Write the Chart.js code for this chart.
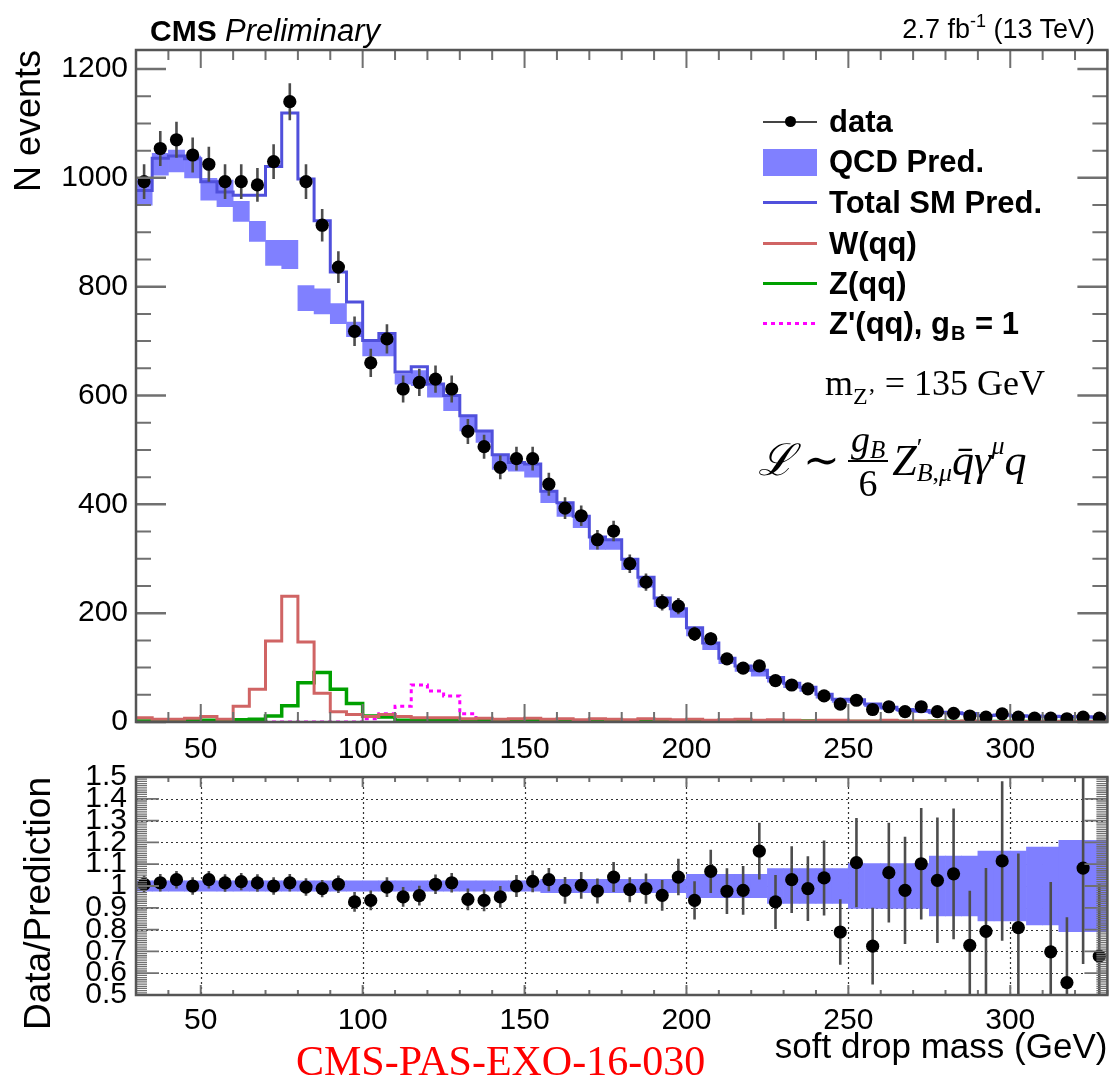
<!DOCTYPE html>
<html>
<head>
<meta charset="utf-8">
<title>Soft drop mass</title>
<script src="https://cdn.jsdelivr.net/npm/chart.js@4.4.1/dist/chart.umd.min.js"></script>
<style>
html, body { margin:0; padding:0; background:#fff; }
#wrap { position:relative; width:1114px; height:1081px; overflow:hidden; font-family:"Liberation Sans", Arial, sans-serif; color:#000; }
#wrap canvas { position:absolute; left:0; top:0; }
.t { position:absolute; white-space:nowrap; line-height:1; }
.sym { position:absolute; left:763px; width:54px; }
.row { position:absolute; left:829px; height:40px; display:flex; align-items:center; font-weight:bold; font-size:31px; white-space:nowrap; line-height:1; }
.serif { font-family:"Liberation Serif", "DejaVu Serif", serif; }
</style>
</head>
<body>
<div id="wrap">
  <canvas id="mainChart" width="1114" height="1081"></canvas>
  <canvas id="ratioChart" width="1114" height="1081"></canvas>

  <div class="t" style="left:150px;top:15px;font-size:30px;"><b>CMS</b> <i style="font-size:31px">Preliminary</i></div>
  <div class="t" style="right:19px;top:16px;font-size:27px;">2.7 fb<span style="font-size:18px;position:relative;top:-11px">-1</span> (13 TeV)</div>

  <!-- legend symbols -->
  <div class="sym" style="top:120.7px;height:2px;background:#444;"></div>
  <div style="position:absolute;left:785px;top:116.2px;width:11px;height:11px;border-radius:50%;background:#000;"></div>
  <div class="sym" style="top:149px;height:27px;background:#8080ff;"></div>
  <div class="sym" style="top:201px;height:3px;background:#5050dc;"></div>
  <div class="sym" style="top:242px;height:3px;background:#d06464;"></div>
  <div class="sym" style="top:282px;height:3px;background:#00a000;"></div>
  <div class="sym" style="top:322px;height:3px;background:repeating-linear-gradient(to right,#ff00ff 0 4px,transparent 4px 8px);"></div>

  <!-- legend texts -->
  <div class="row" style="top:101.7px;">data</div>
  <div class="row" style="top:141.7px;">QCD Pred.</div>
  <div class="row" style="top:182.3px;">Total SM Pred.</div>
  <div class="row" style="top:223.3px;">W(qq)</div>
  <div class="row" style="top:263.3px;">Z(qq)</div>
  <div class="row" style="top:303.3px;">Z'(qq), g<span style="font-size:20px;position:relative;top:10px;margin:0 1px">B</span>&nbsp;= 1</div>

  <div class="t serif" style="left:825px;top:365px;font-size:36px;">m<span style="font-size:24px;position:relative;top:9px">Z’</span> = 135 GeV</div>

  <div class="t serif" style="left:758px;top:420px;font-size:44px;display:flex;align-items:center;">
    <span style="font-style:italic">ℒ</span>
    <span style="margin:0 8px">∼</span>
    <span style="display:inline-flex;flex-direction:column;align-items:center;font-size:38px;">
      <span style="border-bottom:2px solid #000;padding:0 3px 2px;"><i>g</i><span style="font-size:25px;position:relative;top:6px"><i>B</i></span></span>
      <span style="padding-top:2px">6</span>
    </span>
    <i style="margin-left:4px">Z</i>
    <span style="display:inline-flex;flex-direction:column;font-size:26px;line-height:0.95;">
      <span>′</span><span><i>B</i>,<i>μ</i></span>
    </span>
    <i>q̄</i><i>γ</i><span style="font-size:26px;position:relative;top:-15px"><i>μ</i></span><i>q</i>
  </div>

  <div class="t serif" style="left:296px;top:1040px;font-size:42px;color:#ff0000;">CMS-PAS-EXO-16-030</div>
</div>

<script>
// ---------------- data ----------------
const binLo = [30,35,40,45,50,55,60,65,70,75,80,85,90,95,100,105,110,115,120,125,
               130,135,140,145,150,155,160,165,170,175,180,185,190,195,200,205,210,215,220,225,
               230,235,240,245,250,255,260,265,270,275,280,285,290,295,300,305,310,315,320,325];
const binWidth = 5;

const dataCounts = [993,1054,1070,1042,1025,993,993,987,1030,1140,993,913,836,718,660,704,612,624,630,612,
                    534,506,468,484,484,437,393,379,335,351,291,257,220,213,162,153,116,99,103,76,
                    68,61,48,33,40,23,28,19,28,19,16,11,9,15,9,7,7,6,9,7];
const dataErrors = [32,32,33,32,32,32,32,31,32,34,32,30,29,27,26,27,25,25,25,25,
                    23,22,22,22,22,21,20,19,18,19,17,16,15,15,13,12,11,10,10,9,
                    8,8,7,6,6,5,5,4,5,4,4,3,3,4,3,3,3,2,3,3];

const totalSM = [977,1036,1040,1035,993,974,968,968,1021,1119,998,921,827,772,701,714,643,653,621,600,
                 563,535,491,477,474,424,403,378,340,335,299,266,228,208,173,145,117,103,95,82,
                 71,64,51,42,41,33,27,23,21,18,17,15.5,12,13,11.5,11,10.5,10,9.5,9];
const qcdLow  = [950,1005,1011,1000,959,947,920,883,839,833,756,750,732,708,673,673,621,618,597,572,
                 535,514,464,461,450,403,378,357,317,317,280,248,212,192,158,133,107,93,84,73,
                 63,56,44,36,35,28,23,19,17,15,14,12.5,10,10.5,9,8.5,8,7.5,7,7];
const qcdHigh = [999,1045,1051,1040,999,996,957,920,885,885,802,796,769,735,701,710,640,646,621,600,
                 560,535,489,477,474,424,400,378,340,335,299,266,228,208,173,145,117,103,95,82,
                 71,64,51,42,41,33,27,23,21,18,17,15.5,12,13,11.5,11,10.5,10,9.5,9];
const wqq = [8,5,5,7,10,5,29,60,149,231,147,53,19,14,10,14,10,8,8,8,
             6,7,5,6,7,5,6,4,6,5,4,6,5,4,5,3,4,5,3,4,
             3,2,3,3,2,2,3,2,2,2,1,2,1,1,1,1,1,1,1,1];
const zqq = [2,2,3,3,3,3,4,5,11,30,72,91,60,34,11,9,3,3,3,3,
             4,4,3,3,3,2,2,2,2,2,2,2,2,2,2,2,2,2,2,2,
             2,2,1,1,1,1,2,1,1,2,1,1,1,1,1,1,1,1,1,1];
const zprime = [0,0,0,0,0,0,0,0,0,0,0,0,0,0,6,15,29,68,57,48,
                15,5,2,2,1,1,0,0,0,0,0,0,0,0,0,0,0,0,0,0,
                0,0,0,0,0,0,0,0,0,0,0,0,0,0,0,0,0,0,0,0];

const ratioVals = [1.008,1.015,1.029,1.000,1.029,1.014,1.020,1.014,1.000,1.015,0.995,0.988,1.008,0.927,0.934,0.995,0.950,0.956,1.008,1.015,
                   0.939,0.934,0.950,1.000,1.021,1.029,0.980,1.003,0.977,1.041,0.983,0.988,0.957,1.041,0.934,1.067,0.976,0.980,1.160,0.927,
                   1.029,0.988,1.037,0.789,1.107,0.724,1.061,0.980,1.102,1.026,1.056,0.728,0.792,1.115,0.809,null,0.698,0.557,1.082,0.678];
const ratioErrors = [0.04,0.04,0.04,0.04,0.04,0.04,0.04,0.04,0.04,0.04,0.04,0.04,0.04,0.045,0.045,0.045,0.045,0.045,0.045,0.045,
                     0.05,0.05,0.05,0.05,0.05,0.053,0.061,0.061,0.057,0.069,0.057,0.069,0.070,0.084,0.088,0.099,0.105,0.112,0.13,0.124,
                     0.153,0.149,0.172,0.15,0.205,0.176,0.229,0.246,0.256,0.288,0.30,0.25,0.29,0.366,0.34,0,0.32,0.30,0.44,0.33];
const ratioBand = [0.024,0.024,0.024,0.024,0.024,0.024,0.024,0.024,0.024,0.024,0.024,0.024,0.024,0.024,0.024,0.024,0.024,0.024,0.024,0.024,
                   0.024,0.024,0.024,0.024,0.024,0.031,0.031,0.031,0.031,0.031,0.031,0.031,0.031,0.031,0.053,0.053,0.053,0.053,0.053,0.08,
                   0.08,0.08,0.08,0.08,0.103,0.103,0.103,0.103,0.103,0.137,0.137,0.137,0.16,0.16,0.16,0.178,0.178,0.21,0.21,0.21];

const xTicks = [50,100,150,200,250,300];
const yTicks = [0,200,400,600,800,1000,1200];
const ratioTicks = [0.5,0.6,0.7,0.8,0.9,1.0,1.1,1.2,1.3,1.4,1.5];
const ratioTickLabels = ['0.5','0.6','0.7','0.8','0.9','1','1.1','1.2','1.3','1.4','1.5'];

// ---------------- helpers ----------------
const FONT = '"Liberation Sans", Arial, sans-serif';
Chart.defaults.font.family = FONT;
Chart.defaults.color = '#000';

const centers = binLo.map(v => v + binWidth / 2);
const xMin = binLo[0];
const xMax = binLo[binLo.length - 1] + binWidth;
function histPts(vals) {
  const p = binLo.map((lo, i) => ({ x: lo, y: vals[i] }));
  p.push({ x: xMax, y: vals[vals.length - 1] });
  return p;
}

function isMajor(v, step) { return Math.abs(v / step - Math.round(v / step)) < 1e-6; }

const rootFrame = {
  id: 'rootFrame',
  beforeDatasetsDraw(chart, args, o) {
    if (!o.grid) return;
    const { ctx, chartArea: a, scales: { x, y } } = chart;
    ctx.save();
    ctx.strokeStyle = '#333';
    ctx.lineWidth = 1.2;
    ctx.setLineDash([2, 3]);
    o.gridX.forEach(v => {
      const px = Math.round(x.getPixelForValue(v)) + 0.5;
      ctx.beginPath(); ctx.moveTo(px, a.top); ctx.lineTo(px, a.bottom); ctx.stroke();
    });
    o.gridY.forEach(v => {
      const py = Math.round(y.getPixelForValue(v)) + 0.5;
      ctx.beginPath(); ctx.moveTo(a.left, py); ctx.lineTo(a.right, py); ctx.stroke();
    });
    ctx.restore();
  },
  afterDatasetsDraw(chart, args, o) {
    const { ctx, chartArea: a, scales: { x, y } } = chart;
    ctx.save();
    ctx.strokeStyle = '#707070';
    const nx = Math.round((x.max - x.min) / o.xMinor);
    for (let i = 0; i <= nx; i++) {
      const v = x.min + i * o.xMinor;
      const maj = isMajor(v, o.xMajor);
      const L = maj ? o.xMajorLen : o.xMinorLen;
      const px = x.getPixelForValue(v);
      ctx.lineWidth = o.xTickWidth;
      ctx.beginPath();
      ctx.moveTo(px, a.bottom); ctx.lineTo(px, a.bottom - L);
      ctx.moveTo(px, a.top); ctx.lineTo(px, a.top + L);
      ctx.stroke();
    }
    const ny = Math.floor((y.max - y.min) / o.yMinor + 1e-6);
    for (let i = 0; i <= ny; i++) {
      const v = y.min + i * o.yMinor;
      const maj = isMajor(v, o.yMajor);
      const L = maj ? o.yMajorLen : o.yMinorLen;
      const py = y.getPixelForValue(v);
      ctx.lineWidth = maj ? o.yTickWidth + 0.5 : o.yTickWidth;
      ctx.beginPath();
      ctx.moveTo(a.left, py); ctx.lineTo(a.left + L, py);
      ctx.moveTo(a.right, py); ctx.lineTo(a.right - L, py);
      ctx.stroke();
    }
    ctx.strokeStyle = '#555';
    ctx.lineWidth = 2.5;
    ctx.strokeRect(a.left, a.top, a.right - a.left, a.bottom - a.top);
    ctx.restore();
  }
};

const errBars = {
  id: 'errBars',
  beforeDatasetDraw(chart, args) {
    const ds = chart.data.datasets[args.index];
    if (!ds.errs) return;
    const { ctx, chartArea: a, scales: { y } } = chart;
    ctx.save();
    ctx.beginPath();
    ctx.rect(a.left, a.top, a.right - a.left, a.bottom - a.top);
    ctx.clip();
    ctx.strokeStyle = '#4d4d4d';
    ctx.lineWidth = 2.6;
    args.meta.data.forEach((pt, i) => {
      const d = ds.data[i];
      if (!d || d.y == null || pt.skip) return;
      const e = ds.errs[i];
      ctx.beginPath();
      ctx.moveTo(pt.x, y.getPixelForValue(d.y - e));
      ctx.lineTo(pt.x, y.getPixelForValue(d.y + e));
      ctx.stroke();
    });
    ctx.restore();
  }
};

function xScale(height, pad, title) {
  return {
    type: 'linear', min: xMin, max: xMax, offset: false,
    grid: { display: false, drawTicks: false }, border: { display: false },
    afterBuildTicks: s => { s.ticks = xTicks.map(v => ({ value: v })); },
    afterFit: s => { s.height = height; },
    ticks: { padding: pad, autoSkip: false, maxRotation: 0, font: { size: 30 }, color: '#000', callback: v => String(v) },
    title: title
  };
}

const commonOpts = {
  responsive: false,
  animation: false,
  events: [],
  devicePixelRatio: 1,
};

// ---------------- main panel ----------------
new Chart(document.getElementById('mainChart'), {
  type: 'line',
  data: {
    datasets: [
      { type: 'scatter', label: 'data', data: centers.map((c, i) => ({ x: c, y: dataCounts[i] })), errs: dataErrors,
        pointRadius: 6.6, pointBackgroundColor: '#000', pointBorderWidth: 0, showLine: false, order: 0 },
      { label: 'Total SM Pred.', data: histPts(totalSM), stepped: 'before', borderColor: '#5050dc', borderWidth: 3,
        pointRadius: 0, fill: false, order: 1 },
      { label: 'W(qq)', data: histPts(wqq), stepped: 'before', borderColor: '#d06464', borderWidth: 3,
        pointRadius: 0, fill: false, order: 2 },
      { label: 'Z(qq)', data: histPts(zqq), stepped: 'before', borderColor: '#00a000', borderWidth: 3.5,
        pointRadius: 0, fill: false, order: 3 },
      { label: "Z'(qq), gB = 1", data: histPts(zprime), stepped: 'before', borderColor: '#ff00ff', borderWidth: 3,
        borderDash: [4, 4], pointRadius: 0, fill: false, order: 4 },
      { type: 'bar', label: 'QCD Pred.', data: centers.map((c, i) => ({ x: c, y: [qcdLow[i], qcdHigh[i]] })),
        backgroundColor: '#8080ff', borderWidth: 0, barPercentage: 1, categoryPercentage: 1, order: 5 }
    ]
  },
  options: Object.assign({}, commonOpts, {
    layout: { padding: { top: 50, left: 0, right: 2, bottom: 0 } },
    plugins: {
      legend: { display: false }, tooltip: { enabled: false },
      rootFrame: { grid: false, xMinor: 10, xMajor: 50, xMajorLen: 18, xMinorLen: 10, xTickWidth: 2,
                   yMinor: 50, yMajor: 200, yMajorLen: 30, yMinorLen: 15, yTickWidth: 2 }
    },
    scales: {
      x: xScale(359, 10, { display: false }),
      y: {
        type: 'linear', min: 0, max: 1235,
        grid: { display: false, drawTicks: false }, border: { display: false },
        afterBuildTicks: s => { s.ticks = yTicks.map(v => ({ value: v })); },
        afterFit: s => { s.width = 136; },
        ticks: { padding: 8, autoSkip: false, font: { size: 30 }, color: '#000', callback: v => String(v) },
        title: { display: true, text: 'N events', align: 'end', color: '#000', font: { size: 36 }, padding: { top: 8, bottom: 0 } }
      }
    }
  }),
  plugins: [rootFrame, errBars]
});

// ---------------- ratio panel ----------------
new Chart(document.getElementById('ratioChart'), {
  type: 'line',
  data: {
    datasets: [
      { type: 'scatter', label: 'ratio', data: centers.map((c, i) => ({ x: c, y: ratioVals[i] })), errs: ratioErrors,
        pointRadius: 6.6, pointBackgroundColor: '#000', pointBorderWidth: 0, showLine: false, order: 0 },
      { type: 'bar', label: 'pred. unc.', data: centers.map((c, i) => ({ x: c, y: [1 - ratioBand[i], 1 + ratioBand[i]] })),
        backgroundColor: '#7f7fff', borderWidth: 0, barPercentage: 1, categoryPercentage: 1, order: 1 }
    ]
  },
  options: Object.assign({}, commonOpts, {
    layout: { padding: { top: 777, left: 0, right: 2, bottom: 0 } },
    plugins: {
      legend: { display: false }, tooltip: { enabled: false },
      rootFrame: { grid: true, gridX: xTicks, gridY: ratioTicks.slice(1, -1),
                   xMinor: 10, xMajor: 50, xMajorLen: 10, xMinorLen: 5, xTickWidth: 2,
                   yMinor: 0.01, yMajor: 0.1, yMajorLen: 23, yMinorLen: 11, yTickWidth: 1.3 }
    },
    scales: {
      x: xScale(86, 8, { display: true, text: 'soft drop mass (GeV)', align: 'end', color: '#000', font: { size: 35 }, padding: { top: 0, bottom: 12 } }),
      y: {
        type: 'linear', min: 0.5, max: 1.5,
        grid: { display: false, drawTicks: false }, border: { display: false },
        afterBuildTicks: s => { s.ticks = ratioTicks.map(v => ({ value: v })); },
        afterFit: s => { s.width = 136; },
        ticks: { padding: 9, autoSkip: false, font: { size: 30 }, color: '#000', callback: (v, i) => ratioTickLabels[i] },
        title: { display: true, text: 'Data/Prediction', align: 'end', color: '#000', font: { size: 37 }, padding: { top: 18, bottom: 0 } }
      }
    }
  }),
  plugins: [rootFrame, errBars]
});
</script>
</body>
</html>
